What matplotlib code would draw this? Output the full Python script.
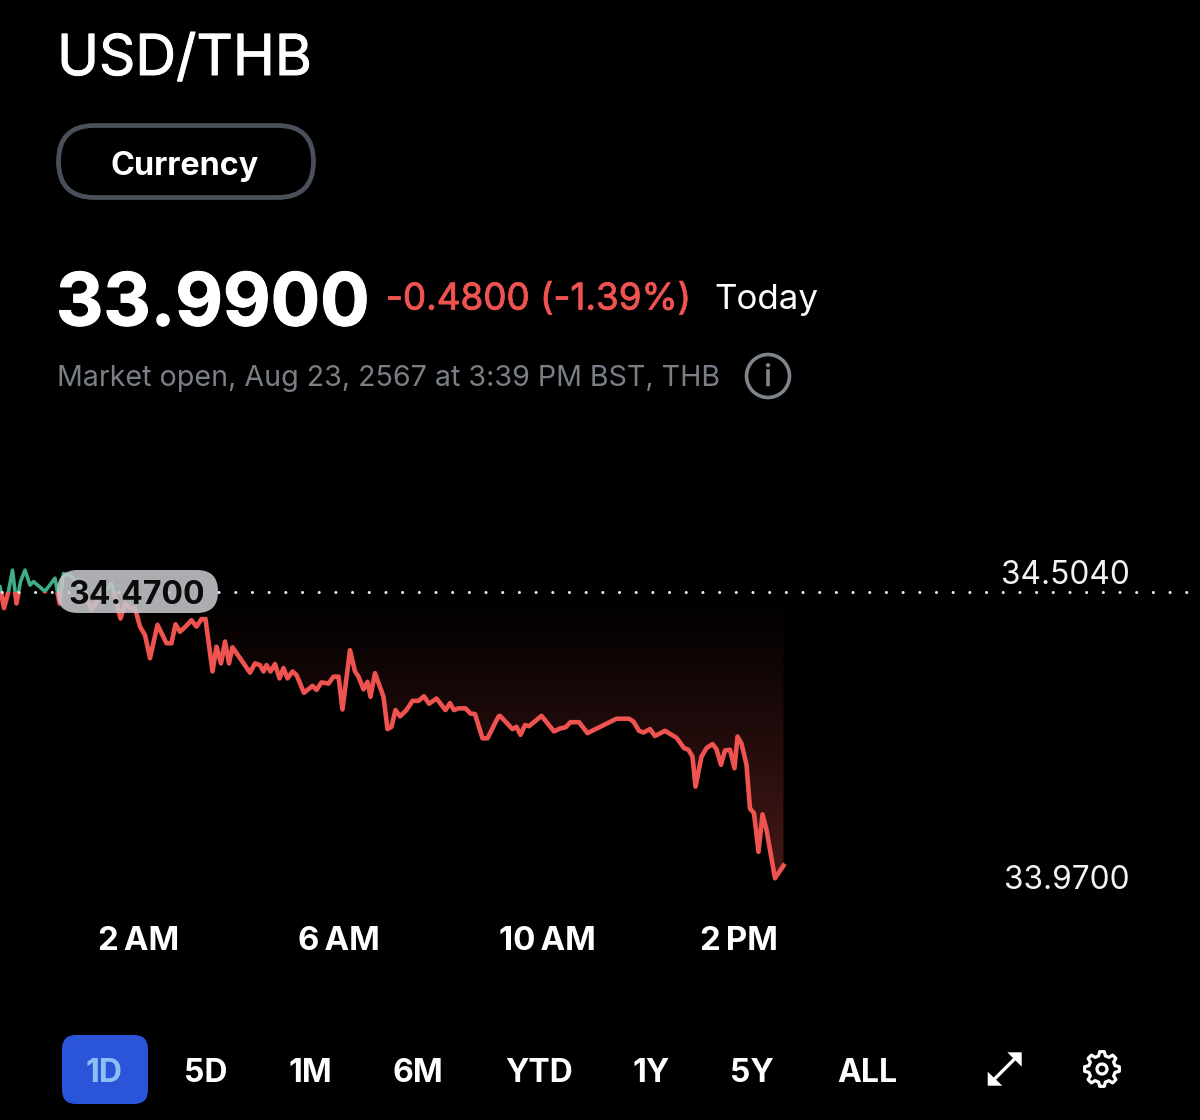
from __future__ import annotations

import matplotlib

matplotlib.use("Agg")

import matplotlib.patheffects as pe
import matplotlib.pyplot as plt
import numpy as np
from matplotlib.patches import Circle, FancyBboxPatch, Polygon, Rectangle
from matplotlib.transforms import blended_transform_factory

WIDTH, HEIGHT = 1200, 1120
FONT = "Inter"

SYMBOL = "USD/THB"
TYPE_LABEL = "Currency"
PRICE = "33.9900"
CHANGE = "-0.4800 (-1.39%)"
CHANGE_PERIOD = "Today"
STATUS = "Market open, Aug 23, 2567 at 3:39 PM BST, THB"

PREV_CLOSE = 34.47
Y_LABELS = [34.504, 33.97]
TICK_HOURS = [2, 6, 10.17, 14]
TICK_LABELS = ["2\u2009AM", "6\u2009AM", "10\u2009AM", "2\u2009PM"]
RANGES = ["1D", "5D", "1M", "6M", "YTD", "1Y", "5Y", "ALL"]

# hours since midnight
hours = [
    -0.78, -0.70, -0.61, -0.53, -0.45, -0.37, -0.28, -0.18, -0.11, 0.12,
    0.32, 0.41, 0.49, 0.65, 0.89, 1.05, 1.22, 1.45, 1.63, 1.72,
    1.82, 1.92, 2.02, 2.12, 2.22, 2.37, 2.55, 2.65, 2.73, 2.82,
    2.92, 3.05, 3.15, 3.25, 3.33, 3.47, 3.55, 3.64, 3.72, 3.80,
    3.87, 4.22, 4.32, 4.42, 4.49, 4.55, 4.63, 4.72, 4.81, 4.89,
    4.97, 5.07, 5.15, 5.30, 5.47, 5.55, 5.65, 5.79, 5.89, 5.99,
    6.07, 6.22, 6.32, 6.39, 6.49, 6.57, 6.63, 6.72, 6.89, 6.97,
    7.05, 7.13, 7.22, 7.35, 7.47, 7.59, 7.70, 7.80, 7.95, 8.13,
    8.22, 8.30, 8.39, 8.53, 8.63, 8.72, 8.87, 8.97, 9.19, 9.22,
    9.47, 9.55, 9.63, 9.72, 9.80, 10.05, 10.30, 10.42, 10.53, 10.63,
    10.80, 10.97, 11.39, 11.55, 11.80, 11.89, 12.00, 12.09, 12.22, 12.32,
    12.52, 12.75, 12.90, 12.99, 13.07, 13.13, 13.25, 13.35, 13.47, 13.55,
    13.64, 13.72, 13.82, 13.91, 13.97, 14.05, 14.15, 14.22, 14.30, 14.39,
    14.47, 14.55, 14.72, 14.89,
]

prices = [
    34.479, 34.442, 34.471, 34.508, 34.450, 34.488, 34.508, 34.482, 34.488, 34.471,
    34.494, 34.450, 34.502, 34.497, 34.474, 34.439, 34.462, 34.485, 34.424, 34.450,
    34.442, 34.442, 34.410, 34.395, 34.355, 34.413, 34.381, 34.381, 34.414, 34.401,
    34.409, 34.421, 34.410, 34.423, 34.423, 34.332, 34.375, 34.346, 34.384, 34.346,
    34.374, 34.330, 34.346, 34.343, 34.332, 34.343, 34.332, 34.345, 34.320, 34.338,
    34.320, 34.332, 34.326, 34.295, 34.307, 34.300, 34.313, 34.311, 34.323, 34.323,
    34.266, 34.369, 34.332, 34.323, 34.301, 34.314, 34.288, 34.329, 34.288, 34.232,
    34.236, 34.265, 34.254, 34.265, 34.281, 34.281, 34.289, 34.276, 34.285, 34.265,
    34.277, 34.265, 34.268, 34.268, 34.259, 34.258, 34.216, 34.216, 34.254, 34.255,
    34.232, 34.236, 34.222, 34.239, 34.237, 34.255, 34.228, 34.233, 34.235, 34.244,
    34.244, 34.225, 34.243, 34.250, 34.250, 34.245, 34.229, 34.226, 34.232, 34.220,
    34.229, 34.217, 34.199, 34.196, 34.184, 34.132, 34.184, 34.199, 34.206, 34.197,
    34.170, 34.195, 34.196, 34.164, 34.219, 34.207, 34.170, 34.094, 34.086, 34.019,
    34.084, 34.057, 33.973, 33.995,
]

BG = "#000000"
RED = "#ee5350"
GREEN = "#3fae84"
WHITE = "#ffffff"
GREY = "#7a7f87"


def add_text(ax, x, y, text, size, weight="normal", color=WHITE, ha="left", thicken=0.0):
    # size given in pixels
    txt = ax.text(x, y, text, fontsize=size * 0.72, fontweight=weight, color=color,
                  ha=ha, va="center", family=FONT)
    if thicken:
        txt.set_path_effects([pe.withStroke(linewidth=thicken, foreground=color)])
    return txt


def draw_chart(fig):
    # axes spans the whole width, y range 560..900 px of the picture
    ax = fig.add_axes([0, 1 - 900 / HEIGHT, 1, 340 / HEIGHT], facecolor=BG)
    for spine in ax.spines.values():
        spine.set_visible(False)

    ax.set_xticks(TICK_HOURS, TICK_LABELS)
    ax.tick_params(axis="x", length=0, pad=19, colors=WHITE)
    for label in ax.get_xticklabels():
        label.set_fontsize(33 * 0.72)
        label.set_fontweight("bold")
        label.set_family(FONT)
    ax.set_yticks([])

    x = np.array(hours)
    y = np.array(prices)

    # area between prev close and the line, fading downwards
    poly = Polygon(np.column_stack([np.r_[x, x[-1], x[0]], np.r_[y, PREV_CLOSE, PREV_CLOSE]]),
                   closed=True, transform=ax.transData, fc="none", ec="none")
    ax.add_patch(poly)
    grad = np.zeros((256, 1, 4))
    grad[..., 0] = 0.94
    grad[..., 1] = 0.32
    grad[..., 2] = 0.31
    grad[:, 0, 3] = np.linspace(0.0, 1.0, 256) ** 1.1 * 0.30
    img = ax.imshow(grad, extent=(x[0], x[-1], min(prices), PREV_CLOSE), origin="upper",
                    aspect="auto", zorder=1, interpolation="bilinear")
    img.set_clip_path(poly)
    ax.set_xlim(-0.78, 23.22)
    ax.set_ylim(PREV_CLOSE - (900 - 592) / 576, PREV_CLOSE + (592 - 560) / 576)

    # line: green above prev close, red below
    above = Rectangle((-1, PREV_CLOSE), 30, 1, transform=ax.transData)
    below = Rectangle((-1, PREV_CLOSE - 2), 30, 2, transform=ax.transData)
    up, = ax.plot(x, y, color=GREEN, lw=2.6, zorder=2, solid_joinstyle="round")
    up.set_clip_path(above)
    down, = ax.plot(x, y, color=RED, lw=3.3, zorder=2, solid_joinstyle="round")
    down.set_clip_path(below)

    ax.axhline(PREV_CLOSE, color="#eeeeee", lw=2.2, zorder=3,
               linestyle=(4.9, (0.01, 5.45)), dash_capstyle="round")

    trans = blended_transform_factory(fig.transFigure, ax.transData)
    for value, shift in zip(Y_LABELS, [-2.2, -0.7]):
        ax.annotate(f"{value:.4f}", (1129 / WIDTH, value), xycoords=trans, xytext=(0.5, shift),
                    textcoords="offset points", ha="right", va="center",
                    color="#f2f2f2", fontsize=31.7 * 0.72, family=FONT, annotation_clip=False)
    return ax


def draw_chrome(fig):
    ov = fig.add_axes([0, 0, 1, 1], facecolor="none")
    ov.set_xlim(0, WIDTH)
    ov.set_ylim(HEIGHT, 0)
    ov.axis("off")

    add_text(ov, 57, 60, SYMBOL, 56.5, thicken=0.7)

    ov.add_patch(FancyBboxPatch((58.5, 125.5), 255, 72, boxstyle="round,pad=0,rounding_size=36",
                                fc=BG, ec="#4a5059", lw=3.4))
    add_text(ov, 185, 167, TYPE_LABEL, 32.4, weight="bold", ha="center")

    add_text(ov, 56, 306, PRICE, 73.4, weight="bold", thicken=0.8)
    add_text(ov, 386, 300, CHANGE, 36.8, color=RED, thicken=0.6)
    add_text(ov, 714, 300, CHANGE_PERIOD, 35)
    add_text(ov, 57, 378, STATUS, 28.6, color=GREY)

    ov.add_patch(Circle((768, 376), 21.5, fc="none", ec="#7f848c", lw=2.6))
    add_text(ov, 768, 378, "i", 30, color="#7f848c", ha="center", thicken=0.5)

    # prev close pill
    ov.add_patch(FancyBboxPatch((57, 570), 161, 43, boxstyle="round,pad=0,rounding_size=21",
                                fc="#c4c6ca", ec="none", alpha=0.88))
    add_text(ov, 137, 595, f"{PREV_CLOSE:.4f}", 32, weight="bold", color="#0b0b0b", ha="center")

    # range selector
    ov.add_patch(FancyBboxPatch((62, 1035), 86, 69, boxstyle="round,pad=0,rounding_size=14",
                                fc="#2b55d8", ec="none"))
    centers = [104, 206, 310, 418, 539, 651, 752, 867]
    for i, (cx, label) in enumerate(zip(centers, RANGES)):
        color = "#8cc0f5" if i == 0 else WHITE
        add_text(ov, cx, 1074, label, 32, weight="bold", color=color, ha="center")

    # expand icon
    ov.plot([993, 1016], [1080.5, 1057.5], color=WHITE, lw=2.4, solid_capstyle="butt")
    ov.add_patch(Polygon([(1021.7, 1052.3), (1021.7, 1066.7), (1007.3, 1052.3)], fc=WHITE, ec="none"))
    ov.add_patch(Polygon([(987.7, 1085.7), (987.7, 1071.7), (1002.3, 1085.7)], fc=WHITE, ec="none"))

    # settings icon
    n = 8
    pts = []
    for k in range(n):
        a0 = 2 * np.pi * k / n - np.pi / 2
        step = 2 * np.pi / n
        for frac, rad in [(-0.32, 13.5), (-0.17, 17.5), (0.17, 17.5), (0.32, 13.5)]:
            a = a0 + frac * step
            pts.append((1102 + rad * np.cos(a), 1069 + rad * np.sin(a)))
    ov.add_patch(Polygon(pts, closed=True, fc="none", ec=WHITE, lw=2.3, joinstyle="round"))
    ov.add_patch(Circle((1102, 1069), 5, fc="none", ec=WHITE, lw=2.3))


def main() -> None:
    fig = plt.figure(figsize=(WIDTH / 100, HEIGHT / 100), dpi=100, facecolor=BG)
    draw_chart(fig)
    draw_chrome(fig)
    fig.savefig("out.png", dpi=100, facecolor=BG)
    plt.close(fig)


if __name__ == "__main__":
    main()
